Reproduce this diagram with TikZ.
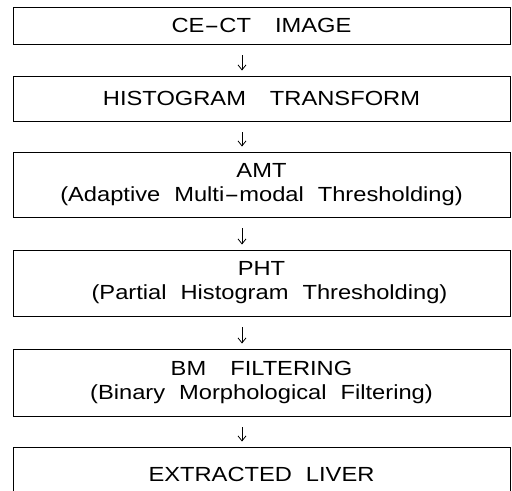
\documentclass[tikz,border=0pt]{standalone}
\usepackage{fontspec}
\setmainfont{Liberation Sans}[FakeStretch=1.16]
\usetikzlibrary{arrows.meta}
\begin{document}
\begin{tikzpicture}[x=1bp,y=-1bp,
  box/.style={draw, line width=0.9bp, minimum width=497bp, inner sep=0pt,
    align=center, font=\fontsize{20.5}{24}\selectfont},
  flow/.style={-{Straight Barb[length=5bp,width=8bp]}, line width=0.8bp}]
\useasboundingbox (0,0) rectangle (512,491);
\clip (0,0) rectangle (512,491);
\newcommand{\wg}{\hspace{24bp}}
\newcommand{\sg}{\hspace{14bp}}
\newcommand{\hy}{\scalebox{1.9}[1]{-}}
\node[box, minimum height=37bp] (b1) at (261.5,25.5) {CE\hy CT\wg IMAGE};
\node[box, minimum height=45bp] (b2) at (261.5,98.5) {HISTOGRAM\wg TRANSFORM};
\node[box, minimum height=65bp] (b3) at (261.5,184.5) {AMT\\(Adaptive\sg Multi\hy modal\sg Thresholding)};
\node[box, minimum height=66bp] (b4) at (261.5,283) {PHT\\\hspace*{16bp}(Partial\sg Histogram\sg Thresholding)};
\node[box, minimum height=67bp] (b5) at (261.5,382.5) {BM\wg FILTERING\\(Binary\sg Morphological\sg Filtering)};
\node[box, minimum height=55bp] (b6) at (261.5,474.5) {EXTRACTED\sg LIVER};
\foreach \a/\b in {b1/b2,b2/b3,b3/b4,b4/b5,b5/b6}
  \draw[flow] ([xshift=-19.5bp,yshift=-11bp]\a.south) -- ([xshift=-19.5bp,yshift=5bp]\b.north);
\end{tikzpicture}
\end{document}
